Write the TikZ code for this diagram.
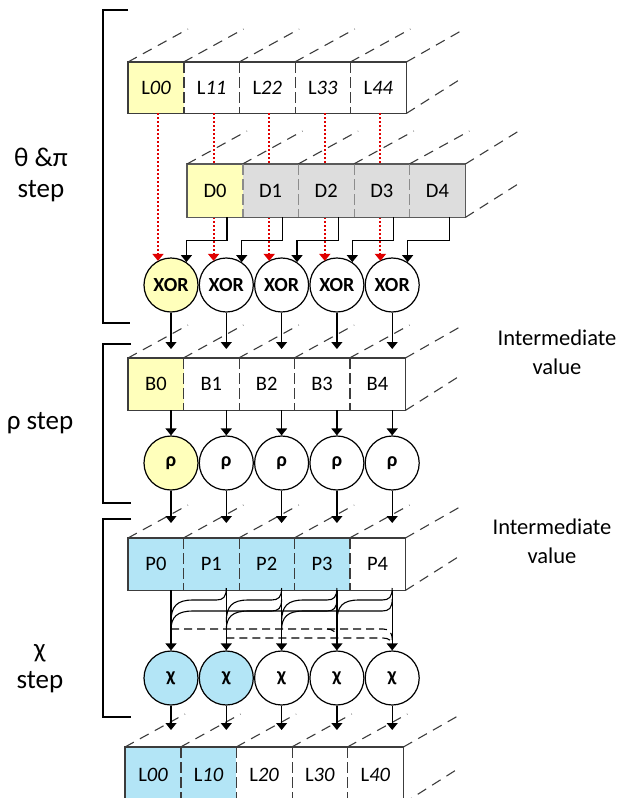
\documentclass[tikz,border=0pt]{standalone}
\usepackage{fontspec}
\setmainfont{Carlito}
\usetikzlibrary{arrows.meta,calc}
\definecolor{ylw}{HTML}{FFFFBB}
\definecolor{blu}{HTML}{B3E5F6}
\definecolor{gry}{HTML}{DDDDDD}
\definecolor{edge}{HTML}{3C3C3C}
\definecolor{dedge}{HTML}{5A5A5A}
\definecolor{ddiv}{HTML}{8C8C8C}
\definecolor{redarr}{HTML}{E00000}
\begin{document}
\begin{tikzpicture}[x=1pt,y=-1pt,
  cell/.style={draw=none, inner sep=0pt, anchor=north west, text=black,
    font=\fontsize{20.5}{21}\selectfont},
  circ/.style={circle, draw=black, line width=1.2pt, minimum size=54pt, inner sep=0pt,
    font=\fontsize{20}{20}\selectfont\bfseries},
  boxline/.style={draw=edge, line width=1.3pt},
  divider/.style={draw=edge, line width=1.1pt, dash pattern=on 11pt off 4pt},
  diag/.style={draw=edge, line width=1.1pt, dash pattern=on 10pt off 7pt},
  arr/.style={-{Triangle[width=11pt,length=7pt]}, line width=1.2pt, black},
  redarrow/.style={-{Triangle[width=11pt,length=7pt]}, line width=1.9pt, redarr,
    dash pattern=on 2pt off 2pt},
  wire/.style={line width=1.1pt, black},
  dwire/.style={line width=1.1pt, black, dash pattern=on 8pt off 5pt},
  bracket/.style={line width=1.5pt, black},
  lbl/.style={align=center, font=\fontsize{27}{31}\selectfont},
  ilbl/.style={align=center, font=\fontsize{22.5}{29}\selectfont}
]
\useasboundingbox (0,0) rectangle (622,798);

% ---------- top L row ----------
\foreach \i/\f/\t in {0/ylw/L\textit{00},1/white/L\textit{11},2/white/L\textit{22},3/white/L\textit{33},4/white/L\textit{44}}
  \node[cell, fill=\f, minimum width=55.6pt, minimum height=51pt] (L\i) at (128+55.6*\i,62) {\t};
\draw[boxline] (L0.north west) rectangle (L4.south east);
\foreach \i in {0,...,3} \draw[divider] (L\i.north east) -- (L\i.south east);
\foreach \i in {0,...,4} \draw[diag] (L\i.north west) -- ++(60,-33);
\draw[diag] (L4.north east) -- ++(58,-33);
\draw[diag] (L4.south east) -- ++(52,-33);

% ---------- XOR circles ----------
\node[circ, fill=ylw] (X0) at (171,285) {XOR};
\foreach \i in {1,...,4} \node[circ, fill=white] (X\i) at (171+55.3*\i,285) {XOR};

% red dotted arrows (behind D row)
\foreach \i in {0,...,4} \draw[redarrow] ($(L\i.south)+(2,0)$) -- ($(L\i.south |- X\i.119)+(2,0)$);

% ---------- D row ----------
\foreach \i/\f/\t in {0/ylw/D0,1/gry/D1,2/gry/D2,3/gry/D3,4/gry/D4}
  \node[cell, fill=\f, minimum width=55.6pt, minimum height=53pt] (D\i) at (187+55.6*\i,164) {\t};
\draw[draw=dedge, line width=1.3pt] (D0.north west) rectangle (D4.south east);
\foreach \i in {0,...,3} \draw[divider, draw=ddiv] (D\i.north east) -- (D\i.south east);
\foreach \i in {0,...,4} \draw[diag] (D\i.north west) -- ++(60,-33);
\draw[diag] (D4.north east) -- ++(55,-34);
\draw[diag] (D4.south east) -- ++(52,-33);

\foreach \i in {0,...,4} \draw[arr] ($(D\i.south)+(12,0)$) -- ++(0,23) -| (X\i.56);

% ---------- B row ----------
\foreach \i/\f/\t in {0/ylw/B0,1/white/B1,2/white/B2,3/white/B3,4/white/B4}
  \node[cell, fill=\f, minimum width=55.4pt, minimum height=52pt] (B\i) at (128+55.4*\i,358) {\t};
\draw[boxline] (B0.north west) rectangle (B4.south east);
\foreach \i in {0,...,3} \draw[divider] (B\i.north east) -- (B\i.south east);
\foreach \i in {0,...,4} \draw[diag] (B\i.north west) -- ++(60,-33);
\draw[diag] (B4.north east) -- ++(58,-33);
\draw[diag] (B4.south east) -- ++(52,-33);

\foreach \i in {0,...,4} \draw[arr] (X\i.south) -- (X\i.south |- 0,349);

% ---------- rho circles ----------
\node[circ, fill=ylw] (R0) at (171,463) {ρ};
\foreach \i in {1,...,4} \node[circ, fill=white] (R\i) at (171+55.3*\i,463) {ρ};
\foreach \i in {0,...,4} \draw[arr] (R\i.north |- B0.south) -- (R\i.north);

% ---------- P row ----------
\foreach \i/\f/\t in {0/blu/P0,1/blu/P1,2/blu/P2,3/blu/P3,4/white/P4}
  \node[cell, fill=\f, minimum width=55.4pt, minimum height=52pt] (P\i) at (128+55.4*\i,538) {\t};
\draw[boxline] (P0.north west) rectangle (P4.south east);
\foreach \i in {0,...,3} \draw[divider] (P\i.north east) -- (P\i.south east);
\foreach \i in {0,...,4} \draw[diag] (P\i.north west) -- ++(60,-33);
\draw[diag] (P4.north east) -- ++(58,-33);
\draw[diag] (P4.south east) -- ++(52,-33);

\foreach \i in {0,...,4} \draw[arr] (R\i.south) -- (R\i.south |- 0,523);

% ---------- chi circles ----------
\node[circ, fill=blu] (C0) at (171,678) {χ};
\node[circ, fill=blu] (C1) at (226.3,678) {χ};
\foreach \i in {2,...,4} \node[circ, fill=white] (C\i) at (171+55.3*\i,678) {χ};
\foreach \i in {0,...,4} \draw[arr] (C\i.north |- P0.south) -- (C\i.north);

% chi mixing wires
\foreach \k in {0,1,2} {
  \pgfmathsetmacro\xa{171+55.3*\k}
  \pgfmathsetmacro\xb{\xa+55.3}
  \pgfmathsetmacro\xc{\xa+110.6}
  \draw[wire] (\xb,588) .. controls (\xb,597) and (\xb-3,600) .. (\xb-10,600)
     -- (\xa+22,600) .. controls (\xa+6,600) and (\xa,606) .. (\xa,622);
  \draw[wire] (\xc,599) .. controls (\xc,608) and (\xc-3,611) .. (\xc-10,611)
     -- (\xa+22,611) .. controls (\xa+6,611) and (\xa,617) .. (\xa,630);
}
\draw[wire] (392.2,588) .. controls (392.2,597) and (389.2,600) .. (382.2,600)
   -- (358.9,600) .. controls (342.9,600) and (336.9,606) .. (336.9,622);
\draw[dwire] (171,629) -- (327,629) .. controls (333,629) and (336.9,632) .. (336.9,640);
\draw[dwire] (327,629) -- (383,629) .. controls (389,629) and (392.2,632) .. (392.2,640);
\draw[dwire] (226.3,638) -- (383,638) .. controls (389,638) and (392.2,641) .. (392.2,646);

% ---------- output L row ----------
\foreach \i/\f/\t in {0/blu/L\textit{00},1/blu/L\textit{10},2/white/L\textit{20},3/white/L\textit{30},4/white/L\textit{40}}
  \node[cell, fill=\f, minimum width=55.6pt, minimum height=56pt] (O\i) at (125+55.6*\i,747) {\raisebox{1pt}{\t}};
\draw[boxline] (O0.north west) rectangle (O4.south east);
\foreach \i in {0,...,3} \draw[divider] (O\i.north east) -- (O\i.south east);
\foreach \i in {0,...,4} \draw[diag] (O\i.north west) -- ++(60,-33);
\draw[diag] (O4.north east) -- ++(58,-33);
\draw[diag] (O4.south east) -- ++(52,-33);

\foreach \i in {0,...,4} \draw[arr] (C\i.south) -- (C\i.south |- 0,730);

% ---------- brackets ----------
\draw[bracket] (128,10) -- (103,10) -- (103,323) -- (130,323);
\draw[bracket] (131,344) -- (103,344) -- (103,503) -- (131,503);
\draw[bracket] (131,519) -- (103,519) -- (103,717) -- (131,717);

% ---------- labels ----------
\node[lbl] (s1) at (41,175) {θ \&π\\step};
\node[lbl] (s2) at (40,423) {ρ step};
\node[lbl] (s3) at (40,669) {χ\\step};
\node[ilbl] (iv1) at (557,352) {Intermediate\\value};
\node[ilbl] (iv2) at (552,541) {Intermediate\\value};
\end{tikzpicture}
\end{document}
